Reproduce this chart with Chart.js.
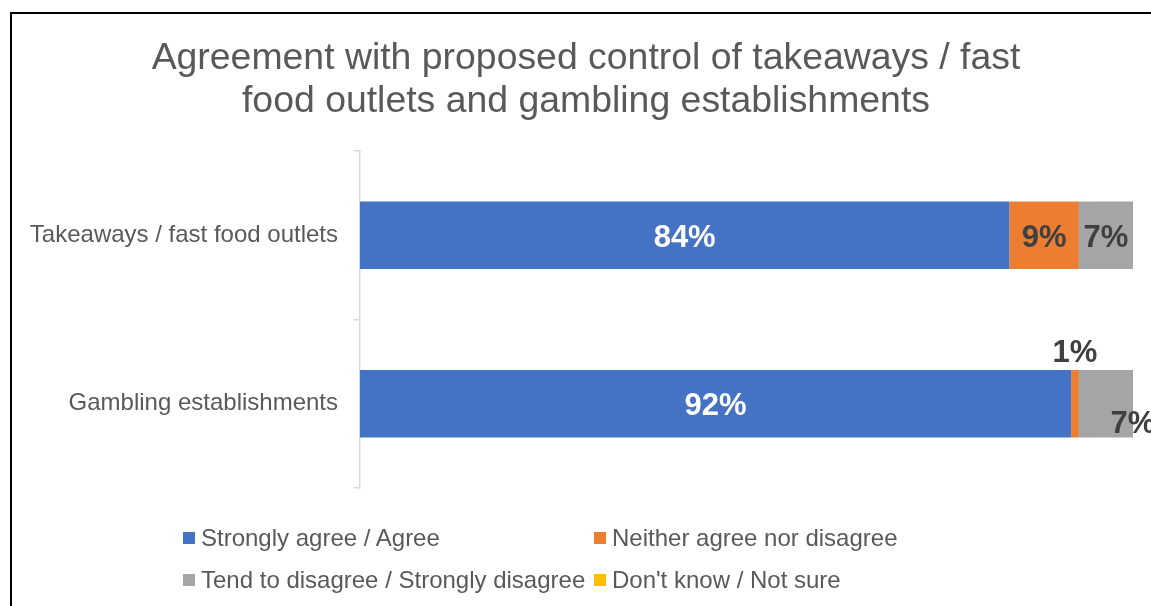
<!DOCTYPE html>
<html>
<head>
<meta charset="utf-8">
<script src="https://cdn.jsdelivr.net/npm/chart.js@4/dist/chart.umd.min.js"></script>
<style>
  html, body { margin: 0; padding: 0; background: #fff; }
  body { width: 1151px; height: 606px; position: relative; overflow: hidden; font-family: "Liberation Sans", Arial, sans-serif; }
  #frame { position: absolute; left: 10px; top: 12px; right: -10px; bottom: -10px; border-left: 2px solid #000; border-top: 2px solid #000; pointer-events: none; }
  #wrap { position: absolute; left: 10px; top: 0; width: 1152px; height: 606px; }
  #title { position: absolute; left: 10px; width: 1152px; top: 35px; text-align: center; font-size: 37.4px; line-height: 43px; color: #595959; }
  .legend-item { position: absolute; display: flex; align-items: center; font-size: 24px; color: #595959; white-space: nowrap; line-height: 1; }
  .legend-item span.box { width: 12px; height: 12px; margin-right: 6px; display: inline-block; }
</style>
</head>
<body>
<div id="wrap"><canvas id="myChart" width="1152" height="606"></canvas></div>
<div id="frame"></div>
<div id="title"></div>
<div id="legend"></div>
<script>
// data
const categories = ["Takeaways / fast food outlets", "Gambling establishments"];
const seriesNames = [
    "Strongly agree / Agree",
    "Neither agree nor disagree",
    "Tend to disagree / Strongly disagree",
    "Don't know / Not sure"
];
const agree = [84, 92];
const neither = [9, 1];
const disagree = [7, 7];
const dontKnow = [0, 0];
const colors = ["#4472C4", "#ED7D31", "#A5A5A5", "#FFC000"];
const titleLines = ["Agreement with proposed control of takeaways / fast", "food outlets and gambling establishments"];

const FONT = "'Liberation Sans', Arial, sans-serif";

// labels that Excel moved by hand: "dataset-index": [dx, dy]
const labelNudge = { "2-1": [27, 18] };

const valueLabels = {
    id: "valueLabels",
    afterDatasetsDraw(chart) {
        const ctx = chart.ctx;
        ctx.save();
        ctx.font = "bold 31px " + FONT;
        ctx.textAlign = "center";
        ctx.textBaseline = "middle";
        chart.data.datasets.forEach((ds, di) => {
            const meta = chart.getDatasetMeta(di);
            meta.data.forEach((bar, i) => {
                const v = ds.data[i];
                if (!v) return;
                const txt = v + "%";
                const w = Math.abs(bar.x - bar.base);
                let x = (bar.x + bar.base) / 2;
                let y = bar.y + 3;
                if (w < ctx.measureText(txt).width) {
                    y = bar.y - bar.height / 2 - 17;
                }
                const n = labelNudge[di + "-" + i];
                if (n) { x += n[0]; y += n[1]; }
                ctx.fillStyle = di === 0 ? "#FFFFFF" : "#404040";
                ctx.fillText(txt, x, y);
            });
        });
        ctx.restore();
    }
};

// title (centred on the frame, not on the plot)
const titleEl = document.getElementById("title");
titleLines.forEach((line, k) => {
    if (k) titleEl.appendChild(document.createElement("br"));
    titleEl.appendChild(document.createTextNode(line));
});

const chartRef = document.getElementById("myChart").getContext("2d");

const chart = new Chart(chartRef, {
    type: "bar",
    data: {
        labels: categories,
        datasets: [agree, neither, disagree, dontKnow].map((d, k) => ({
            label: seriesNames[k],
            data: d,
            backgroundColor: colors[k],
            borderWidth: 0,
            categoryPercentage: 1,
            barPercentage: 0.4
        }))
    },
    options: {
        indexAxis: "y",
        responsive: false,
        animation: false,
        layout: { padding: { left: 0, right: 29, top: 151, bottom: 118 } },
        plugins: {
            legend: { display: false },
            tooltip: { enabled: false },
            title: { display: false }
        },
        scales: {
            x: { stacked: true, min: 0, max: 100, display: false },
            y: {
                stacked: true,
                offset: true,
                grid: { offset: true, drawOnChartArea: false, tickLength: 6, color: "#D9D9D9", lineWidth: 1.5 },
                border: { color: "#D9D9D9", width: 1.5 },
                ticks: { color: "#595959", font: { family: FONT, size: 24 }, padding: 16 },
                afterFit(scale) { scale.width = 350; }
            }
        }
    },
    plugins: [valueLabels]
});

// legend, two columns like the original
const legendPos = [[183, 538], [594, 538], [183, 580], [594, 580]];
const legendEl = document.getElementById("legend");
seriesNames.forEach((name, k) => {
    const item = document.createElement("div");
    item.className = "legend-item";
    item.style.left = legendPos[k][0] + "px";
    item.style.top = (legendPos[k][1] - 12) + "px";
    item.innerHTML = '<span class="box" style="background:' + colors[k] + '"></span>';
    item.appendChild(document.createTextNode(name));
    legendEl.appendChild(item);
});
</script>
</body>
</html>
